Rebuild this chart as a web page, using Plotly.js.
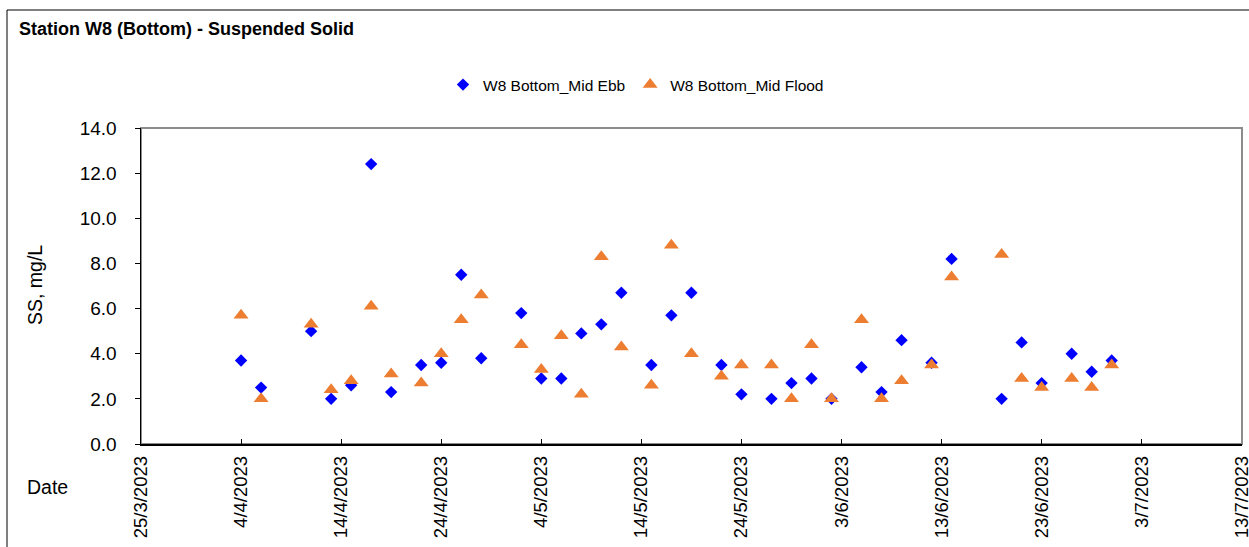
<!DOCTYPE html>
<html>
<head>
<meta charset="utf-8">
<script src="https://cdn.plot.ly/plotly-3.0.1.min.js"></script>
<style>html,body{margin:0;padding:0;background:#fff;}#chart{width:1249px;height:547px;}</style>
</head>
<body>
<div id="chart"></div>
<script>
const dates = ['2023-04-04','2023-04-06','2023-04-11','2023-04-13','2023-04-15','2023-04-17','2023-04-19','2023-04-22','2023-04-24','2023-04-26','2023-04-28',
  '2023-05-02','2023-05-04','2023-05-06','2023-05-08','2023-05-10','2023-05-12','2023-05-15','2023-05-17','2023-05-19','2023-05-22','2023-05-24','2023-05-27','2023-05-29','2023-05-31',
  '2023-06-02','2023-06-05','2023-06-07','2023-06-09','2023-06-12','2023-06-14','2023-06-19','2023-06-21','2023-06-23','2023-06-26','2023-06-28','2023-06-30'];
const midEbb = [3.7,2.5,5.0,2.0,2.6,12.4,2.3,3.5,3.6,7.5,3.8,
  5.8,2.9,2.9,4.9,5.3,6.7,3.5,5.7,6.7,3.5,2.2,2.0,2.7,2.9,
  2.0,3.4,2.3,4.6,3.6,8.2,2.0,4.5,2.7,4.0,3.2,3.7];
const midFlood = [5.7,2.0,5.3,2.4,2.8,6.1,3.1,2.7,4.0,5.5,6.6,
  4.4,3.3,4.8,2.2,8.3,4.3,2.6,8.8,4.0,3.0,3.5,3.5,2.0,4.4,
  2.0,5.5,2.0,2.8,3.5,7.4,8.4,2.9,2.5,2.9,2.5,3.5];
const seriesNames = ['W8 Bottom_Mid Ebb','W8 Bottom_Mid Flood'];
const xRange = ['2023-03-25','2023-07-13 00:30'];
const yTicks = [0,2,4,6,8,10,12,14];

const FONT = 'Arial, "Liberation Sans", sans-serif';
const L = 141, R = 1242, T = 128, B = 444, W = 1249, H = 547;
const px = x => (x - L) / (R - L);
const py = y => (B - y) / (B - T);

const traces = [
  {x: dates, y: midEbb, name: seriesNames[0], type: 'scatter', mode: 'markers',
   marker: {symbol: 'diamond', size: 9.5, color: '#0000FF'}},
  {x: dates, y: midFlood, name: seriesNames[1], type: 'scatter', mode: 'markers',
   marker: {symbol: 'triangle-up', size: 13, color: '#ED7D31'}}
];

const layout = {
  width: W, height: H,
  margin: {l: L, r: W - R, t: T, b: H - B, pad: 0},
  paper_bgcolor: '#fff', plot_bgcolor: '#fff',
  font: {family: FONT, color: '#000', size: 16},
  title: {text: '<b>Station W8 (Bottom) - Suspended Solid</b>', x: 19 / W, xanchor: 'left', xref: 'container',
          y: 1 - 29 / H, yanchor: 'middle', yref: 'container', font: {family: FONT, size: 18, color: '#000'}},
  showlegend: true,
  legend: {orientation: 'h', x: px(636), xanchor: 'center', y: py(85), yanchor: 'middle',
           font: {family: FONT, size: 15.5, color: '#000'}, itemwidth: 30, tracegroupgap: 0, bgcolor: 'rgba(0,0,0,0)'},
  xaxis: {type: 'date', range: xRange, tick0: '2023-03-25', dtick: 864000000, tickformat: '%-d/%-m/%Y',
          tickangle: -90, ticks: 'inside', ticklen: 5, tickcolor: '#000', showgrid: false, zeroline: false,
          showline: true, linecolor: '#000', linewidth: 1.5, ticklabelstandoff: 3, ticklabeloverflow: 'allow',
          tickfont: {family: FONT, size: 18.5, color: '#000'}},
  yaxis: {range: [0, 14], tickvals: yTicks, tickformat: '.1f', ticks: 'outside', ticklen: 5, tickcolor: '#000',
          showgrid: false, zeroline: false, showline: true, linecolor: '#000', linewidth: 1.5,
          ticklabelstandoff: 14, tickfont: {family: FONT, size: 19, color: '#000'}},
  shapes: [
    {type: 'rect', xref: 'paper', yref: 'paper', x0: 0, x1: 1, y0: 0, y1: 1, line: {color: '#8c8c8c', width: 2}, layer: 'below'},
    {type: 'rect', xref: 'paper', yref: 'paper', x0: px(7), x1: px(1300), y0: py(10), y1: py(600), line: {color: '#000', width: 1}, layer: 'below'}
  ],
  annotations: [
    {text: 'SS, mg/L', xref: 'paper', yref: 'paper', x: px(35), y: py(285), textangle: -90, showarrow: false,
     xanchor: 'center', yanchor: 'middle', font: {family: FONT, size: 19.5, color: '#000'}},
    {text: 'Date', xref: 'paper', yref: 'paper', x: px(47), y: py(487), showarrow: false,
     xanchor: 'center', yanchor: 'middle', font: {family: FONT, size: 19.5, color: '#000'}}
  ]
};

Plotly.newPlot('chart', traces, layout, {displayModeBar: false, staticPlot: true});
</script>
</body>
</html>
